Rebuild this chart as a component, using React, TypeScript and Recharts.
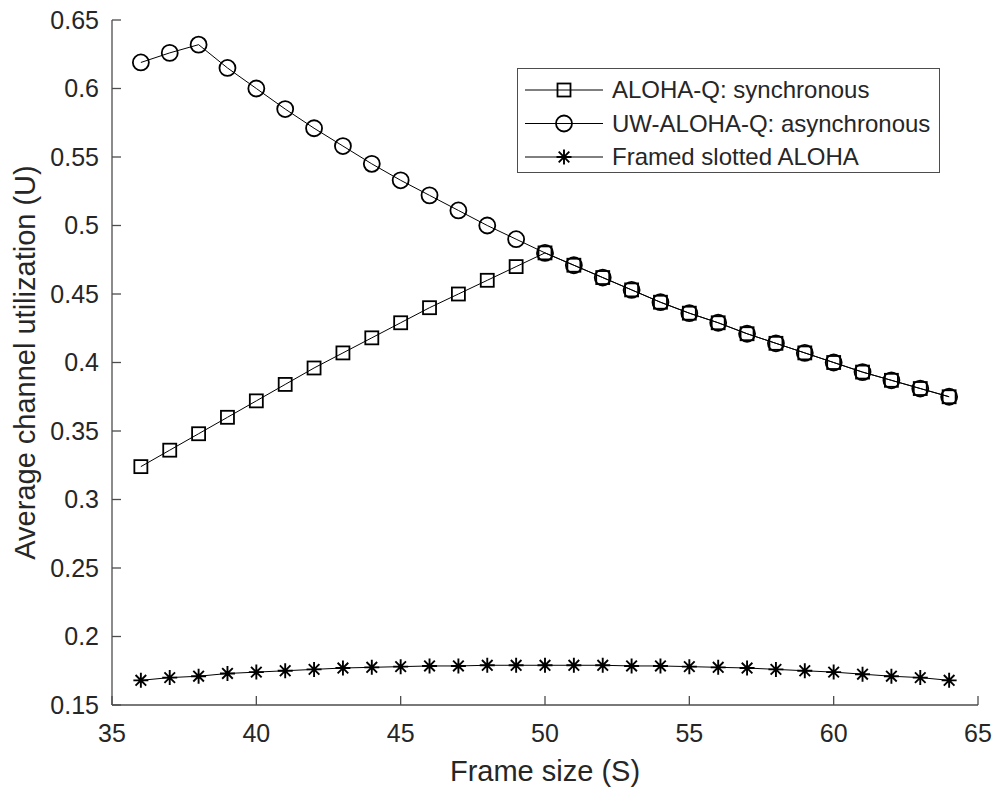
import React from 'react';
import { LineChart, Line, XAxis, YAxis } from 'recharts';

// Frame sizes (S) on the horizontal axis
const frameSizes = [36, 37, 38, 39, 40, 41, 42, 43, 44, 45, 46, 47, 48, 49, 50, 51, 52, 53, 54, 55, 56, 57, 58, 59, 60, 61, 62, 63, 64];

// Average channel utilization (U) for each scheme
const alohaQSync = [0.324, 0.336, 0.348, 0.36, 0.372, 0.384, 0.396, 0.407, 0.418, 0.429, 0.44, 0.45, 0.46, 0.47, 0.48, 0.471, 0.462, 0.453, 0.444, 0.436, 0.429, 0.421, 0.414, 0.407, 0.4, 0.393, 0.387, 0.381, 0.375];
const uwAlohaQAsync = [0.619, 0.626, 0.632, 0.615, 0.6, 0.585, 0.571, 0.558, 0.545, 0.533, 0.522, 0.511, 0.5, 0.49, 0.48, 0.471, 0.462, 0.453, 0.444, 0.436, 0.429, 0.421, 0.414, 0.407, 0.4, 0.393, 0.387, 0.381, 0.375];
const framedSlottedAloha = [0.168, 0.17, 0.171, 0.173, 0.174, 0.175, 0.176, 0.177, 0.1775, 0.178, 0.1785, 0.1785, 0.179, 0.179, 0.179, 0.179, 0.179, 0.1785, 0.1785, 0.178, 0.1775, 0.177, 0.176, 0.175, 0.174, 0.1725, 0.171, 0.17, 0.168];

const xTicks = [35, 40, 45, 50, 55, 60, 65];
const yTicks = [0.15, 0.2, 0.25, 0.3, 0.35, 0.4, 0.45, 0.5, 0.55, 0.6, 0.65];

const seriesNames = ['ALOHA-Q: synchronous', 'UW-ALOHA-Q: asynchronous', 'Framed slotted ALOHA'];
const seriesKeys = ['sync', 'async', 'fsa'];
const seriesShapes = ['square', 'circle', 'asterisk'];

const rows = frameSizes.map((s, i) => ({
  s,
  sync: alohaQSync[i],
  async: uwAlohaQAsync[i],
  fsa: framedSlottedAloha[i],
}));

const FONT = '"Liberation Sans", Arial, Helvetica, sans-serif';
const TEXT = '#262626';
const AXIS = '#4d4d4d';

function Glyph({ shape, cx, cy }: { shape: string; cx: number; cy: number }) {
  if (shape === 'square') {
    return <rect x={cx - 6.5} y={cy - 6.5} width={13} height={13} fill="none" stroke="#000" strokeWidth={1.8} />;
  }
  if (shape === 'circle') {
    return <circle cx={cx} cy={cy} r={8} fill="none" stroke="#000" strokeWidth={1.8} />;
  }
  const r = 7.5;
  const d = r * 0.7071;
  return (
    <path
      d={`M${cx - r},${cy}H${cx + r}M${cx},${cy - r}V${cy + r}M${cx - d},${cy - d}L${cx + d},${cy + d}M${cx - d},${cy + d}L${cx + d},${cy - d}`}
      stroke="#000"
      strokeWidth={1.9}
      fill="none"
    />
  );
}

const makeDot = (shape: string) => (props: any) => {
  const { cx, cy, index } = props;
  if (cx == null || cy == null) return <g key={`${shape}-${index}`} />;
  return (
    <g key={`${shape}-${index}`}>
      <Glyph shape={shape} cx={cx} cy={cy} />
    </g>
  );
};

const fmt = (v: number) => String(+v.toFixed(2));

// Boxed legend in the upper right of the plot
function LegendBox() {
  const w = 423;
  const h = 105;
  return (
    <svg width={w} height={h} style={{ display: 'block' }}>
      <rect x={0.5} y={0.5} width={w - 1} height={h - 1} fill="#fff" stroke={AXIS} strokeWidth={1} />
      {seriesNames.map((name, i) => {
        const cy = 22 + i * 33.5;
        return (
          <g key={name}>
            <line x1={8} x2={86} y1={cy} y2={cy} stroke="#000" strokeWidth={1} />
            <Glyph shape={seriesShapes[i]} cx={47} cy={cy} />
            <text x={95} y={cy + 8} fontFamily={FONT} fontSize={24} fill={TEXT}>
              {name}
            </text>
          </g>
        );
      })}
    </svg>
  );
}

const xLabel = (props: any) => {
  const vb = props.viewBox || {};
  return (
    <text x={vb.x + vb.width / 2} y={vb.y + vb.height - 7} textAnchor="middle" fontFamily={FONT} fontSize={29} fill={TEXT}>
      Frame size (S)
    </text>
  );
};

const yLabel = (props: any) => {
  const vb = props.viewBox || {};
  const x = vb.x + 35;
  const y = vb.y + vb.height / 2;
  return (
    <text x={x} y={y} transform={`rotate(-90, ${x}, ${y})`} textAnchor="middle" fontFamily={FONT} fontSize={29} fill={TEXT}>
      Average channel utilization (U)
    </text>
  );
};

export default function App() {
  return (
    <div style={{ position: 'absolute', left: 0, top: 0, width: 1000, height: 788, background: '#fff' }}>
      <LineChart width={1000} height={788} data={rows} margin={{ top: 20, right: 22, bottom: 0, left: 0 }}>
        <XAxis
          dataKey="s"
          type="number"
          domain={[35, 65]}
          ticks={xTicks}
          interval={0}
          height={83}
          tickSize={-9}
          tickMargin={28}
          axisLine={{ stroke: AXIS, strokeWidth: 1.3 }}
          tickLine={{ stroke: AXIS, strokeWidth: 1.3 }}
          tick={{ fill: TEXT, fontSize: 25, fontFamily: FONT }}
          label={{ content: xLabel }}
        />
        <YAxis
          type="number"
          domain={[0.15, 0.65]}
          ticks={yTicks}
          interval={0}
          width={112}
          tickSize={-9}
          tickMargin={22}
          tickFormatter={fmt}
          axisLine={{ stroke: AXIS, strokeWidth: 1.3 }}
          tickLine={{ stroke: AXIS, strokeWidth: 1.3 }}
          tick={{ fill: TEXT, fontSize: 25, fontFamily: FONT }}
          label={{ content: yLabel }}
        />
        {seriesKeys.map((k, i) => (
          <Line
            key={k}
            dataKey={k}
            name={seriesNames[i]}
            type="linear"
            stroke="#000"
            strokeWidth={1}
            dot={makeDot(seriesShapes[i])}
            activeDot={false}
            isAnimationActive={false}
          />
        ))}
      </LineChart>
      <div style={{ position: 'absolute', left: 517, top: 68, width: 423, height: 105 }}>
        <LegendBox />
      </div>
    </div>
  );
}
